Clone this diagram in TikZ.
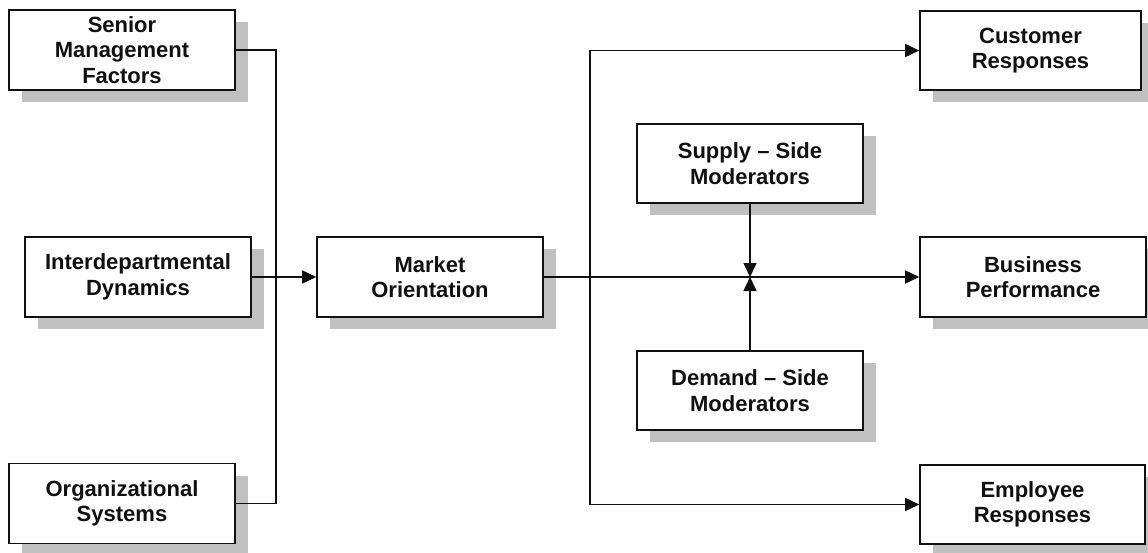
\documentclass[tikz,border=0pt]{standalone}
\usepackage{fontspec}
\setmainfont{Liberation Sans}
\usetikzlibrary{arrows.meta,shadows}
\definecolor{shadowgray}{HTML}{C0C0C0}
\definecolor{ink}{HTML}{101010}
\begin{document}
\begin{tikzpicture}[x=1pt,y=-1pt,
  box/.style={draw=ink, line width=1.6pt, fill=white, rectangle, inner sep=0pt,
    align=center, text=ink, font=\fontsize{22}{25.5}\selectfont\bfseries,
    minimum height=80pt,
    general shadow={fill=shadowgray, draw=none, shadow xshift=13pt, shadow yshift=-12pt}},
  conn/.style={draw=ink, line width=1.6pt},
  arr/.style={conn, -{Triangle[length=14pt,width=13pt]}}]
\useasboundingbox (0,0) rectangle (1148,552);
\begin{scope}
\clip (0,0) rectangle (1148,552);
\node[box, minimum width=226pt] (smf) at (122,50) {Senior\\Management\\Factors};
\node[box, minimum width=226pt] (idd) at (138,277) {Interdepartmental\\Dynamics};
\node[box, minimum width=226pt] (org) at (122,503.5) {Organizational\\Systems};
\node[box, minimum width=226pt] (mo) at (430,277) {Market\\Orientation};
\node[box, minimum width=226pt, minimum height=79pt] (ssm) at (750,163.5) {Supply -- Side\\Moderators};
\node[box, minimum width=226pt, minimum height=79pt] (dsm) at (750,390.5) {Demand -- Side\\Moderators};
\node[box, minimum width=221pt, minimum height=79pt] (cr) at (1030.5,50.5) {Customer\\Responses};
\node[box, minimum width=226pt] (bp) at (1033,277) {Business\\Performance};
\node[box, minimum width=225pt, minimum height=79pt] (er) at (1032.5,504.5) {Employee\\Responses};
\end{scope}
\coordinate (lv) at (276,277);
\coordinate (rv) at (590,277);
\draw[conn] (smf.east) -- (smf.east -| lv) -- (org.east -| lv) -- (org.east);
\draw[arr] (idd.east) -- (mo.west);
\draw[arr] (mo.east) -- (bp.west);
\draw[arr] (rv) |- (cr.west);
\draw[arr] (rv) |- (er.west);
\draw[arr] (ssm.south) -- (ssm.south |- mo.east);
\draw[arr] (dsm.north) -- (dsm.north |- mo.east);
\end{tikzpicture}
\end{document}
